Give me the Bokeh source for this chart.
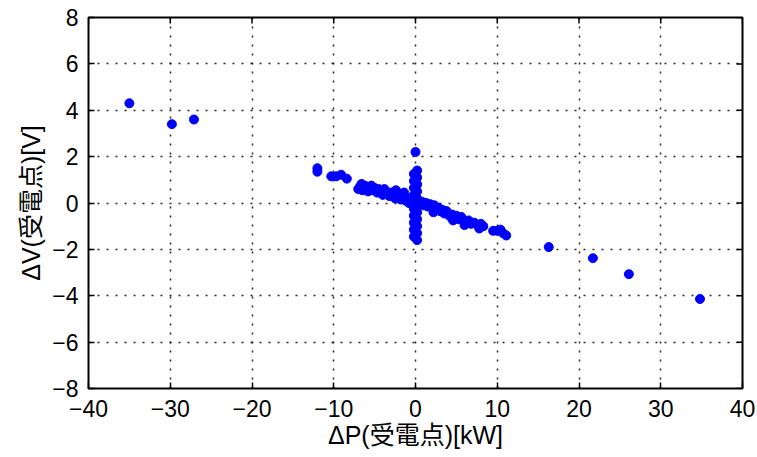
from bokeh.plotting import figure
from bokeh.models import FixedTicker, ColumnDataSource
from bokeh.embed import file_html
from bokeh.resources import INLINE

# Data: ΔP [kW] vs ΔV [V]
dp = [-35.0, -29.8, -27.1,
      -12.0, -12.0, -10.3, -9.7, -9.1, -8.4,
      -7.0, -6.8, -6.5, -6.2, -6.0, -5.8, -5.5, -5.2, -5.0, -4.7, -4.5, -4.2,
      -4.0, -3.7, -3.5, -3.2, -3.0, -2.7, -2.5, -2.2, -2.0, -1.8, -1.5, -1.2,
      -1.0, -0.8, -0.5, -0.3, -0.2,
      -6.6, -5.4, -3.8, -2.4, -1.4,
      0.2, -0.2, 0.2, -0.2, 0.2, -0.2, 0.2, -0.2, 0.2, -0.2, 0.2, -0.2, 0.2,
      -0.2, 0.2, -0.2, 0.2, -0.2, 0.2, -0.2, 0.2, 0.0,
      0.5, 0.8, 1.0, 1.3, 1.5, 1.8, 2.0, 2.3, 2.5, 2.8, 3.0, 3.3, 3.5, 3.8,
      4.0, 4.3, 4.5, 4.8, 5.0, 5.3, 5.6, 5.9, 6.2, 6.5, 6.8, 7.2, 7.6, 8.0, 8.3,
      2.2, 4.6, 6.0, 7.8,
      9.5, 10.0, 10.4, 10.7, 11.1,
      16.3, 21.7, 26.1, 34.8]
dv = [4.3, 3.4, 3.6,
      1.5, 1.35, 1.15, 1.15, 1.22, 1.05,
      0.6, 0.7, 0.55, 0.75, 0.6, 0.5, 0.7, 0.55, 0.65, 0.45, 0.6, 0.5,
      0.35, 0.5, 0.4, 0.3, 0.45, 0.35, 0.2, 0.45, 0.3, 0.15, 0.3, 0.1,
      0.2, 0.0, 0.15, -0.05, 0.1,
      0.82, 0.75, 0.6, 0.55, 0.45,
      1.4, 1.25, 1.1, 0.95, 0.8, 0.65, 0.5, 0.35, 0.2, 0.05, -0.1, -0.25, -0.4,
      -0.55, -0.7, -0.85, -1.0, -1.15, -1.3, -1.45, -1.6, 2.2,
      -0.05, 0.05, -0.1, 0.0, -0.15, -0.05, -0.2, -0.1, -0.3, -0.2, -0.35, -0.3, -0.45, -0.35,
      -0.5, -0.6, -0.5, -0.65, -0.55, -0.7, -0.6, -0.75, -0.85, -0.75, -0.9, -0.85, -0.95, -0.9, -1.0,
      -0.4, -0.75, -0.95, -1.1,
      -1.2, -1.2, -1.15, -1.3, -1.4,
      -1.9, -2.38, -3.07, -4.14]

x_ticks = [-40, -30, -20, -10, 0, 10, 20, 30, 40]
y_ticks = [-8, -6, -4, -2, 0, 2, 4, 6, 8]
x_label = "ΔP(受電点)[kW]"
y_label = "ΔV(受電点)[V]"

X0, X1, Y0, Y1 = -40, 40, -8, 8

def lab(v):
    return ("\u2212" + str(-v)) if v < 0 else str(v)

src = ColumnDataSource(data=dict(dp=dp, dv=dv))

p = figure(width=757, height=457, x_range=(X0, X1), y_range=(Y0, Y1),
           output_backend="svg", toolbar_location=None,
           min_border_left=88, min_border_right=15, min_border_top=17, min_border_bottom=69,
           background_fill_color="white", border_fill_color="white")

FONT = "Liberation Sans, Noto Sans CJK JP"

p.xaxis.ticker = FixedTicker(ticks=x_ticks)
p.yaxis.ticker = FixedTicker(ticks=y_ticks)
p.xaxis.major_label_overrides = {v: lab(v) for v in x_ticks}
p.yaxis.major_label_overrides = {v: lab(v) for v in y_ticks}
p.xaxis.axis_label = x_label
p.yaxis.axis_label = y_label

for ax in (p.xaxis[0], p.yaxis[0]):
    ax.major_label_text_font = FONT
    ax.major_label_text_font_size = "23px"
    ax.major_label_text_color = "black"
    ax.axis_label_text_font = FONT
    ax.axis_label_text_font_size = "25px"
    ax.axis_label_text_font_style = "normal"
    ax.axis_label_text_color = "black"
    ax.major_tick_in = 6
    ax.major_tick_out = 0
    ax.major_tick_line_color = "black"
    ax.major_tick_line_width = 1.5
    ax.minor_tick_line_color = None
    ax.axis_line_color = None

p.xaxis.major_label_standoff = 11
p.xaxis.axis_label_standoff = 1
p.yaxis.major_label_standoff = 10
p.yaxis.axis_label_standoff = 4

p.grid.ticker = None
p.xgrid.ticker = FixedTicker(ticks=x_ticks)
p.ygrid.ticker = FixedTicker(ticks=y_ticks)
p.grid.grid_line_color = "black"
p.grid.grid_line_dash = "2 7"
p.grid.grid_line_width = 1.5
p.grid.grid_line_alpha = 0.85

# inward ticks on the top and right edges of the box (about 6 px long)
tx = (X1 - X0) * 6 / 654
ty = (Y1 - Y0) * 6 / 371
p.segment(x0=x_ticks, y0=[Y1] * len(x_ticks), x1=x_ticks, y1=[Y1 - ty] * len(x_ticks),
          line_color="black", line_width=1.5)
p.segment(x0=[X1] * len(y_ticks), y0=y_ticks, x1=[X1 - tx] * len(y_ticks), y1=y_ticks,
          line_color="black", line_width=1.5)

p.scatter("dp", "dv", source=src, size=9, color="#0000ff")

p.outline_line_color = "black"
p.outline_line_width = 2

open("out.html", "w").write(file_html(p, INLINE))
